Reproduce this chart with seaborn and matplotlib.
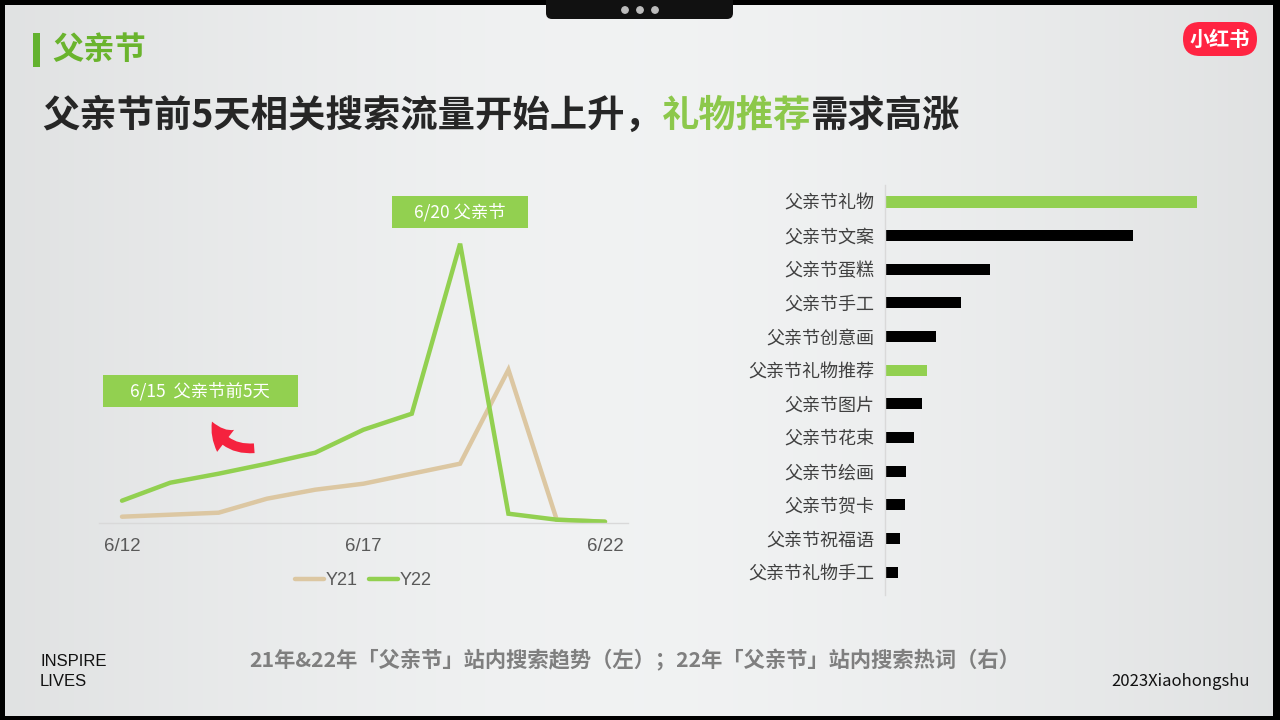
import numpy as np
import pandas as pd
import matplotlib
matplotlib.use("Agg")
import matplotlib.pyplot as plt
import seaborn as sns
from matplotlib.patches import Rectangle, FancyBboxPatch, FancyArrowPatch

# -----------------------------
# data
# -----------------------------
dates = ["6/12", "6/13", "6/14", "6/15", "6/16", "6/17", "6/18", "6/19", "6/20", "6/21", "6/22"]
y21 = [6, 8, 10, 24, 33, 39, 49, 59, 153, 3, 1]
y22 = [22, 40, 49, 59, 70, 93, 109, 279, 9, 3, 1]

keywords = ["父亲节礼物", "父亲节文案", "父亲节蛋糕", "父亲节手工", "父亲节创意画", "父亲节礼物推荐",
            "父亲节图片", "父亲节花束", "父亲节绘画", "父亲节贺卡", "父亲节祝福语", "父亲节礼物手工"]
heat = [312, 248, 105, 76, 51, 42, 37, 29, 21, 20, 15, 13]
highlight = ["父亲节礼物", "父亲节礼物推荐"]

GREEN = "#92d050"
TAN = "#dcc7a2"
GRAY = "#595959"

sns.set_theme(style="white")
plt.rcParams["font.family"] = ["Noto Sans CJK SC", "DejaVu Sans"]

fig = plt.figure(figsize=(12.8, 7.2), dpi=100)
fig.patch.set_facecolor("black")

# -----------------------------
# slide background
# -----------------------------
bg = fig.add_axes([0, 0, 1, 1])
bg.axis("off")
t = np.linspace(0, 1, 256)
shade = 0.955 - 0.065 * (2 * np.abs(t - 0.5)) ** 1.5
grad = np.dstack([shade - 0.01, shade - 0.004, shade - 0.002])[0:1].repeat(2, axis=0)
bg.imshow(grad, extent=[5, 1273, 716, 5], aspect="auto", zorder=0)
bg.set_xlim(0, 1280)
bg.set_ylim(720, 0)

# -----------------------------
# line chart (left)
# -----------------------------
x_idx = list(range(len(dates)))
df_line = pd.DataFrame({
    "idx": x_idx * 2,
    "value": y21 + y22,
    "series": ["Y21"] * len(dates) + ["Y22"] * len(dates),
})
ax1 = fig.add_axes([99 / 1280, (720 - 522.7) / 720, 529 / 1280, 322.7 / 720])
ax1.patch.set_alpha(0)
sns.lineplot(data=df_line, x="idx", y="value", hue="series",
             palette={"Y21": TAN, "Y22": GREEN}, linewidth=3.2, ax=ax1)
for ln in ax1.lines:
    ln.set_clip_on(False)
    ln.set_solid_joinstyle("miter")
ax1.set_xlim(-0.476, 10.476)
ax1.set_ylim(0, 322.7)
ax1.set_xticks([0, 5, 10])
ax1.set_xticklabels([dates[0], dates[5], dates[10]], family="Liberation Sans",
                    fontsize=13.5, color=GRAY)
ax1.set_yticks([])
ax1.tick_params(axis="x", length=0, pad=11)
ax1.set_xlabel("")
ax1.set_ylabel("")
for s in ["top", "right", "left"]:
    ax1.spines[s].set_visible(False)
ax1.spines["bottom"].set_color("#d9d9d9")
ax1.spines["bottom"].set_linewidth(1)
leg = ax1.legend(loc="center", bbox_to_anchor=(0.5, -0.18), ncol=2, frameon=False,
                 handlelength=1.6, handletextpad=0.1, columnspacing=0.6,
                 prop={"family": "Liberation Sans", "size": 13})
for txt in leg.get_texts():
    txt.set_color(GRAY)
for h in leg.legend_handles:
    h.set_linewidth(3.2)

# -----------------------------
# keyword bar chart (right)
# -----------------------------
df_bar = pd.DataFrame({"kw": keywords, "heat": heat})
bar_pal = {k: (GREEN if k in highlight else "black") for k in keywords}
ax2 = fig.add_axes([885 / 1280, (720 - 595) / 720, 335 / 1280, 410 / 720])
ax2.patch.set_alpha(0)
sns.barplot(data=df_bar, x="heat", y="kw", hue="kw", palette=bar_pal, order=keywords,
            width=0.33, orient="h", legend=False, saturation=1, linewidth=0, ax=ax2)
ax2.set_xlim(0, 335)
ax2.set_ylim(11.68, -0.505)
ax2.set_xticks([])
ax2.set_xlabel("")
ax2.set_ylabel("")
ax2.tick_params(axis="y", length=0, pad=8, labelsize=13, labelcolor="#404040")
for s in ["top", "right", "bottom"]:
    ax2.spines[s].set_visible(False)
ax2.spines["left"].set_color("#d9d9d9")
ax2.spines["left"].set_linewidth(1)

# -----------------------------
# overlay: titles, labels, logo
# -----------------------------
ov = fig.add_axes([0, 0, 1, 1])
ov.set_xlim(0, 1280)
ov.set_ylim(720, 0)
ov.axis("off")
ov.patch.set_alpha(0)

# top tab
ov.add_patch(FancyBboxPatch((546, -20), 187, 39, boxstyle="round,pad=0,rounding_size=6",
                            fc="#111111", ec="none"))
for dx in (625, 640, 655):
    ov.add_patch(plt.Circle((dx, 10), 3.2, color="#bdbdbd"))

# header
ov.add_patch(Rectangle((33, 33), 7, 34, fc="#63b22f", ec="none"))
ov.text(52, 50, "父亲节", fontsize=22.5, fontweight="bold", color="#6ab42d", va="center", ha="left")

# main title in three colour parts
renderer = fig.canvas.get_renderer()
x0 = 42
parts = [("父亲节前5天相关搜索流量开始上升，", "#262626"), ("礼物推荐", "#8cc84b"), ("需求高涨", "#262626")]
for s, c in parts:
    tt = ov.text(x0, 115, s, fontsize=26.9, fontweight="bold", color=c, va="center", ha="left")
    bb = tt.get_window_extent(renderer=renderer)
    x0 += bb.width

# logo
ov.add_patch(FancyBboxPatch((1183, 22), 74, 34, boxstyle="round,pad=0,rounding_size=17",
                            fc="#ff2442", ec="none"))
ov.text(1220, 39.5, "小红书", fontsize=14.5, fontweight="bold", color="white", ha="center", va="center")

# annotation boxes
ov.add_patch(Rectangle((392, 196), 136, 32, fc=GREEN, ec="none"))
ov.text(460, 212, "6/20 父亲节", fontsize=12.5, color="white", fontweight="medium",
        ha="center", va="center")
ov.add_patch(Rectangle((103, 375), 195, 32, fc=GREEN, ec="none"))
ov.text(200, 391, "6/15  父亲节前5天", fontsize=12.5, color="white", fontweight="medium",
        ha="center", va="center")
ov.add_artist(FancyArrowPatch((257, 448), (211, 419),
                              arrowstyle="simple,head_width=20,head_length=17,tail_width=7",
                              connectionstyle="arc3,rad=-0.4", fc="#f5223e", ec="none"))

# footer
ov.text(635, 660, "21年&22年「父亲节」站内搜索趋势（左）；22年「父亲节」站内搜索热词（右）",
        fontsize=15.3, fontweight="bold", color="#7f7f7f", ha="center", va="center")
ov.text(40, 662, "INSPIRE", family="Liberation Sans", fontsize=12, color="#111111", va="center")
ov.text(40, 682, "LIVES", family="Liberation Sans", fontsize=12, color="#111111", va="center")
ov.text(1250, 681, "2023Xiaohongshu", fontsize=12, color="#111111", ha="right", va="center")

fig.savefig("out.png", dpi=100, facecolor=fig.get_facecolor())
plt.close(fig)
